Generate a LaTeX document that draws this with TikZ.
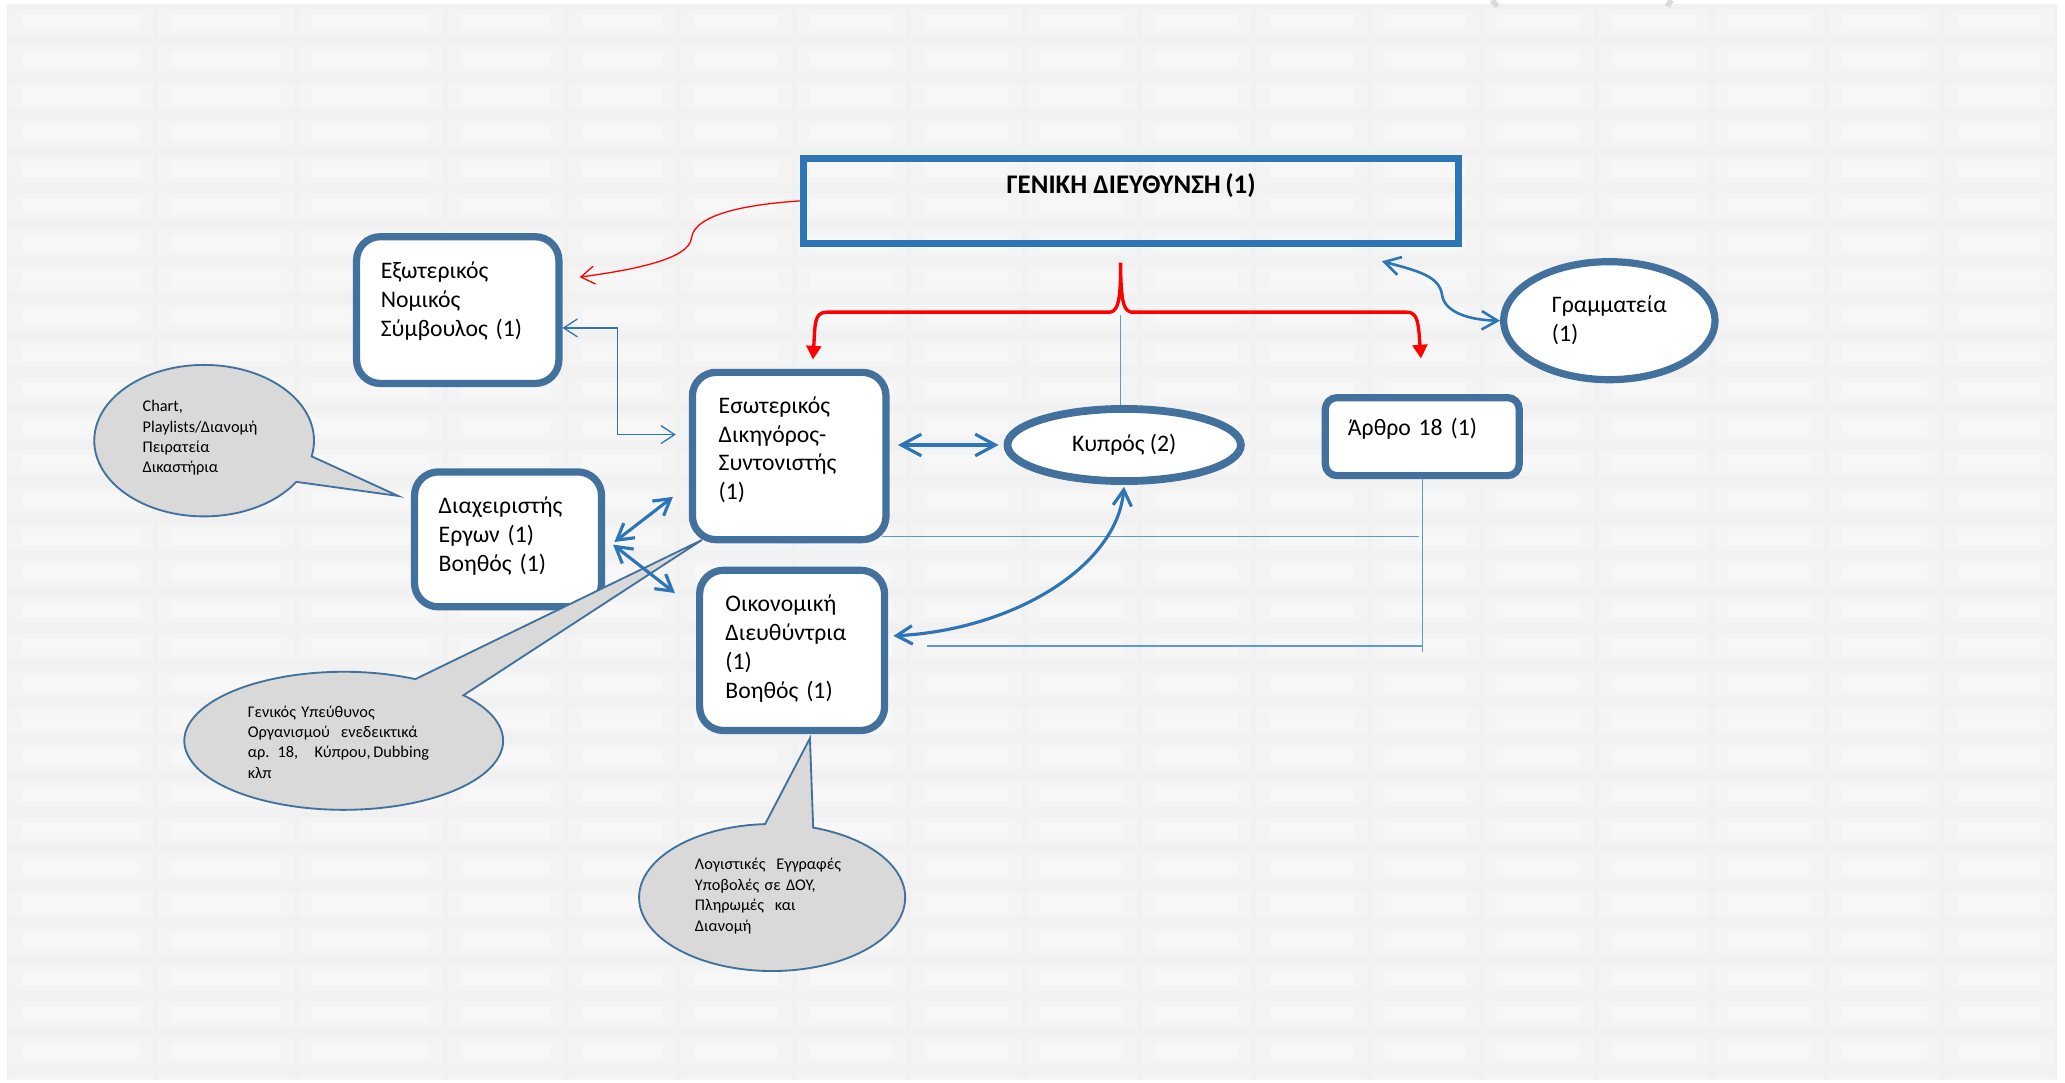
\documentclass[tikz,border=0pt]{standalone}
\usepackage{fontspec}
\setmainfont{Carlito}
\usetikzlibrary{arrows.meta,shapes.geometric,shapes.callouts}

\definecolor{boxblue}{HTML}{41719C}
\definecolor{titleblue}{HTML}{2E75B6}
\definecolor{linkblue}{HTML}{2E75B6}
\definecolor{paleblue}{HTML}{5B9BD5}
\definecolor{notegray}{HTML}{D9D9D9}
\definecolor{paper}{HTML}{F1F1F1}
\definecolor{tilemid}{HTML}{F4F4F4}
\definecolor{tilecore}{HTML}{F7F7F7}
\definecolor{markgray}{HTML}{DADADA}

\tikzset{
  barbS/.tip={Straight Barb[length=2.6mm,width=3.4mm]},
  barbM/.tip={Straight Barb[length=3mm,width=3.5mm]},
  barbL/.tip={Straight Barb[length=3.8mm,width=4.1mm]},
  redwedge/.tip={Triangle[length=2.6mm,width=2.8mm]},
  unitbox/.style={draw=boxblue, line width=3.9pt, fill=white,
    rounded corners=0.45cm, anchor=north west, align=left,
    inner ysep=0pt, font=\fontsize{12.8}{15.6}\selectfont},
  unitoval/.style={ellipse, draw=boxblue, line width=3.9pt, fill=white,
    inner sep=0pt, align=left, font=\fontsize{12.8}{15.6}\selectfont},
  note/.style={ellipse callout, draw=boxblue, line width=1pt,
    fill=notegray, inner sep=0pt, align=left,
    font=\fontsize{8.8}{11}\selectfont},
  redlink/.style={draw=red, line width=0.7pt, -{barbS}},
  redbrace/.style={draw=red, line width=1.8pt, {redwedge}-{redwedge}},
  thinlink/.style={draw=paleblue, line width=0.7pt},
  elbowlink/.style={draw=linkblue, line width=0.7pt, {barbS}-{barbS}},
  twoway/.style={draw=linkblue, line width=1.7pt, {barbM}-{barbM}},
}

\begin{document}
\begin{tikzpicture}[x=0.025cm, y=-0.025cm]
\useasboundingbox (0,0) rectangle (1568,822);
\fill[white] (0,0) rectangle (1568,822);
\fill[paper] (5,3) rectangle (1562,820);
\begin{scope}
  \clip (5,3) rectangle (1562,820);
  \foreach \xa/\xb in {5/118,118/225,225/338,338/430,430/515,515/603,
      603/690,690/778,778/865,865/952,952/1040,1040/1125,1125/1212,
      1212/1300,1300/1387,1387/1475,1475/1562}
    \foreach \r in {0,...,29}{
      \pgfmathsetmacro\ya{3+27.9*\r}
      \fill[tilemid] (\xa+2,\ya+4) rectangle (\xb-2,\ya+24);
      \fill[tilecore] (\xa+12,\ya+8) rectangle (\xb-12,\ya+20);
    }
\end{scope}
\draw[markgray, line width=3pt] (1133,0) -- (1137,5);
\draw[markgray, line width=3pt] (1269,0) -- (1266,5);

\coordinate (rowA) at (1077.7,407.5);
\coordinate (rowB) at (703.6,490.5);
\coordinate (artfoot) at (1080,495);
\coordinate (stem) at (851,239);
\coordinate (elbowtop) at (468.7,249);
\coordinate (elbowbot) at (468.7,330);

\node[draw=titleblue, line width=3.9pt, anchor=north west,
  minimum width=12.43cm, inner sep=0pt, text height=0.66cm,
  text depth=0.945cm, font=\bfseries\fontsize{14.5}{17}\selectfont]
  (gen) at (607.5,117.7) {ΓΕΝΙΚΗ ΔΙΕΥΘΥΝΣΗ\,(1)};
\node[unitoval, line width=4.2pt, minimum width=4.43cm,
  minimum height=1.37cm] (kypros) at (853.6,337.9) {Κυπρός (2)};

\draw[thinlink] (stem) -- (stem |- kypros.north);
\draw[thinlink] (rowB) -- (rowB -| artfoot);

\node[unitbox, text width=2.92cm, inner xsep=0.46cm, text height=0.795cm,
  text depth=1.99cm] (extlaw) at (268,177)
  {Εξωτερικός\\Νομικός\\Σύμβουλος (1)};
\node[unitbox, text width=2.675cm, inner xsep=0.5cm, text height=0.775cm,
  text depth=2.4cm] (intlaw) at (523,280)
  {Εσωτερικός\\Δικηγόρος-\\Συντονιστής\\(1)};
\node[unitbox, text width=2.63cm, inner xsep=0.46cm, text height=0.79cm,
  text depth=1.77cm] (manager) at (312,355.6)
  {Διαχειριστής\\Εργων (1)\\Βοηθός (1)};
\node[unitbox, text width=2.53cm, inner xsep=0.49cm, text height=0.79cm,
  text depth=2.25cm] (finance) at (528.5,430.3)
  {Οικονομική\\Διευθύντρια\\(1)\\Βοηθός (1)};
\node[unitbox, rounded corners=0.22cm, text width=2.82cm, inner xsep=0.43cm,
  text height=0.72cm, text depth=0.76cm] (art18) at (1003.6,299.2)
  {Άρθρο 18 (1)};
\node[unitoval, minimum width=4.01cm, minimum height=2.24cm]
  (gram) at (1222,243.5) {Γραμματεία\\(1)};

\draw[thinlink] (art18.south) -- (art18.south |- artfoot);
\draw[thinlink, shorten <=-4pt] (intlaw.south east |- rowA) -- (rowA);

\node[note, minimum width=4.17cm, minimum height=2.875cm, text width=2.335cm,
  text height=0.22cm, text depth=1.32cm, callout pointer arc=21,
  callout absolute pointer={(302.4,376.6)}] (noteA) at (155,334.6)
  {Chart,\\Playlists/Διανομή\\Πειρατεία\\Δικαστήρια};
\node[note, minimum width=6.05cm, minimum height=2.62cm, text width=3.64cm,
  text height=0.22cm, text depth=1.12cm, callout pointer arc=22,
  callout absolute pointer={(533,410)}] (noteB) at (261,562.5)
  {Γενικός Υπεύθυνος\\Οργανισμού~ ενεδεικτικά\\αρ. 18,\quad Κύπρου,\,Dubbing\\κλπ};
\node[note, minimum width=5.05cm, minimum height=2.79cm, text width=2.93cm,
  text height=0.22cm, text depth=1.265cm, callout pointer arc=21,
  callout absolute pointer={(615,560.6)}] (noteC) at (586.3,681.5)
  {Λογιστικές~ Εγγραφές\\Υποβολές σε ΔΟΥ,\\Πληρωμές~ και\\Διανομή};

\coordinate (cusp) at ([shift={(-8,12)}]gen.south);
\draw[redbrace] ([shift={(18,-7)}]intlaw.north)
  .. controls (619,246) and (618,237) .. (628,237) -- (843,237)
  .. controls (849,236) and (851,228) .. (cusp)
  .. controls (851,228) and (853,236) .. (859,237) -- (1068,237)
  .. controls (1077,237) and (1077,246) .. ([shift={(-1,-27)}]art18.north);
\draw[redlink] (gen.west) .. controls (570,155) and (527,162) .. (525,181)
  .. controls (523,197) and (480,205) .. ([shift={(13,-25)}]extlaw.east);
\draw[elbowlink, shorten >=7pt] (extlaw.east |- elbowtop) -- (elbowtop)
  -- (elbowbot) -- (intlaw.west |- elbowbot);
\draw[twoway, {barbL}-{barbL}, shorten <=4.5pt, shorten >=2.7pt]
  (intlaw.east |- kypros.west) -- (kypros.west);
\draw[twoway, shorten <=1pt] (kypros.south) .. controls (848,430) and (770,478)
  .. ([shift={(4,-11)}]finance.east);
\draw[twoway] ([shift={(-12,31)}]intlaw.west) -- ([shift={(7,2)}]manager.east);
\draw[twoway] ([shift={(6,4)}]manager.east) -- ([shift={(-16,20)}]finance.north west);
\draw[twoway, line width=1.4pt] ([shift={(-61,11)}]gen.south east)
  .. controls (1078,206) and (1093,210) .. (1095,224)
  .. controls (1097,237) and (1115,243) .. (gram.west);
\end{tikzpicture}
\end{document}
